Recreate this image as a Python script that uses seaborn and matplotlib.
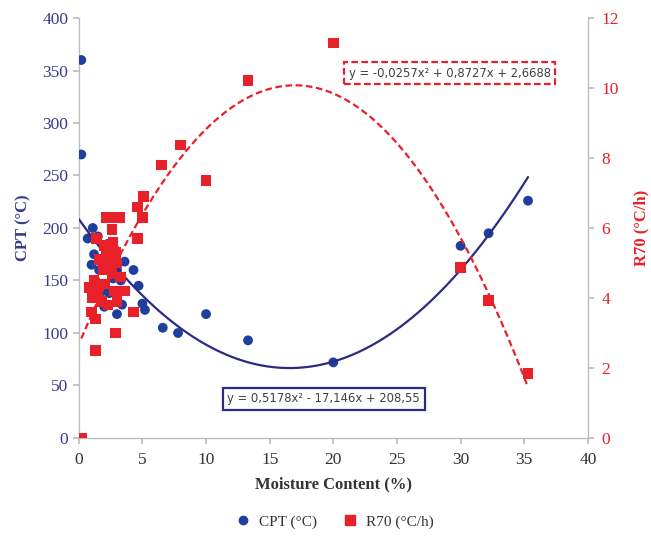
import numpy as np
import pandas as pd
import matplotlib
matplotlib.use("Agg")
import matplotlib.pyplot as plt
import seaborn as sns
from matplotlib.lines import Line2D

# ---- data ----
cpt_x = [0.2, 0.2, 1.1, 0.7, 1.5, 2.3, 2.8, 1.2, 1.0, 1.6, 2.0, 2.5, 3.0, 3.6, 4.3,
         1.3, 2.7, 3.3, 4.7, 1.9, 2.4, 3.0, 3.4, 5.0, 5.2, 3.0, 2.0, 6.6, 7.8,
         10.0, 13.3, 20.0, 30.0, 32.2, 35.3]
cpt_y = [360, 270, 200, 190, 192, 185, 180, 175, 165, 160, 170, 165, 160, 168, 160,
         150, 152, 150, 145, 140, 138, 135, 127, 128, 122, 118, 125, 105, 100,
         118, 93, 72, 183, 195, 226]

r70_x = [0.2, 6.5, 5.1, 4.6, 5.0, 2.2, 2.7, 3.2, 2.6, 4.6, 1.4, 2.0, 2.7, 2.2, 2.9,
         1.6, 2.4, 3.0, 1.9, 2.6, 3.3, 1.2, 2.0, 0.8, 1.5, 2.8, 3.6, 1.1, 1.8, 2.3,
         3.0, 1.0, 4.3, 1.3, 2.9, 1.3, 8.0, 10.0, 13.3, 20.0, 30.0, 32.2, 35.3]
r70_y = [0.0, 7.8, 6.9, 6.6, 6.3, 6.3, 6.3, 6.3, 5.95, 5.7, 5.7, 5.5, 5.6, 5.3, 5.3,
         5.1, 5.0, 5.0, 4.8, 4.7, 4.6, 4.5, 4.4, 4.3, 4.2, 4.2, 4.2, 4.0, 3.9, 3.8,
         3.9, 3.6, 3.6, 3.4, 3.0, 2.5, 8.37, 7.36, 10.22, 11.28, 4.87, 3.93, 1.84]

# trendline coefficients (as printed on the chart)
cpt_coef = [0.5178, -17.146, 208.55]
r70_coef = [-0.0257, 0.8727, 2.6688]
cpt_range = [0.0, 35.3]
r70_range = [0.2, 35.3]
cpt_eq = "y = 0,5178x² - 17,146x + 208,55"
r70_eq = "y = -0,0257x² + 0,8727x + 2,6688"

x_ticks = [0, 5, 10, 15, 20, 25, 30, 35, 40]
left_ticks = [0, 50, 100, 150, 200, 250, 300, 350, 400]
right_ticks = [0, 2, 4, 6, 8, 10, 12]

# ---- style ----
sns.set_theme(style="white")
plt.rcParams['font.family'] = ['Liberation Serif', 'DejaVu Serif']

BLUE_PT = "#1f3f9e"
BLUE_LN = "#2d2a85"
RED = "#e8202a"
LBLUE = "#3a3a8f"
GRAY = "#333333"
SPINE = "#bdbdbd"

fig = plt.figure(figsize=(6.51, 5.39), dpi=100)
ax = fig.add_axes([0.121, 0.1874, 0.782, 0.7792])
ax2 = ax.twinx()

df_cpt = pd.DataFrame({"x": cpt_x, "y": cpt_y})
df_r70 = pd.DataFrame({"x": r70_x, "y": r70_y})

sns.scatterplot(data=df_cpt, x="x", y="y", ax=ax, color=BLUE_PT, marker="o",
                s=50, edgecolor="none", zorder=3, legend=False)
sns.scatterplot(data=df_r70, x="x", y="y", ax=ax2, color=RED, marker="s",
                s=58, edgecolor="none", zorder=3, legend=False)

xc = np.linspace(cpt_range[0], cpt_range[1], 300)
sns.lineplot(x=xc, y=np.polyval(cpt_coef, xc), ax=ax, color=BLUE_LN, lw=1.6,
             zorder=4, estimator=None)
xr = np.linspace(r70_range[0], r70_range[1], 300)
sns.lineplot(x=xr, y=np.polyval(r70_coef, xr), ax=ax2, color=RED, lw=1.6,
             zorder=4, estimator=None, dashes=False, linestyle=(0, (3, 1.6)))

ax.set_xlim(0, 40)
ax.set_ylim(0, 400)
ax2.set_ylim(0, 12)
ax.set_xticks(x_ticks)
ax.set_yticks(left_ticks)
ax2.set_yticks(right_ticks)

for a in (ax, ax2):
    for s in a.spines.values():
        s.set_visible(False)
ax.spines['left'].set_visible(True)
ax.spines['bottom'].set_visible(True)
ax2.spines['right'].set_visible(True)
for s in (ax.spines['left'], ax.spines['bottom'], ax2.spines['right']):
    s.set_color(SPINE)
    s.set_linewidth(1.0)

ax.tick_params(axis='y', colors=SPINE, labelcolor=LBLUE, labelsize=12.5,
               length=4, direction='out', left=True)
ax.tick_params(axis='x', colors=SPINE, labelcolor=GRAY, labelsize=12.5,
               length=4, direction='out', bottom=True, pad=6)
ax2.tick_params(axis='y', colors=SPINE, labelcolor=RED, labelsize=12.5,
                length=4, direction='out', right=True, pad=6)

ax.set_xlabel("Moisture Content (%)", fontsize=12, fontweight='bold', color=GRAY, labelpad=6)
ax.set_ylabel("CPT (°C)", fontsize=12, fontweight='bold', color=LBLUE, labelpad=8)
ax2.set_ylabel("R70 (°C/h)", fontsize=12, fontweight='bold', color=RED, labelpad=10)

eqfont = ['DejaVu Sans']
ax.text(0.729, 0.869, r70_eq, transform=ax.transAxes, ha='center', va='center',
        fontsize=9.3, color="#404040", family=eqfont, stretch='condensed', zorder=6,
        bbox=dict(boxstyle='square,pad=0.35', facecolor='white', edgecolor=RED,
                  linestyle=(0, (3, 1.5)), linewidth=1.6))
ax.text(0.481, 0.093, cpt_eq, transform=ax.transAxes, ha='center', va='center',
        fontsize=9.3, color="#404040", family=eqfont, stretch='condensed', zorder=6,
        bbox=dict(boxstyle='square,pad=0.35', facecolor='white', edgecolor=BLUE_LN,
                  linewidth=1.6))

handles = [Line2D([], [], marker='o', color=BLUE_PT, ls='none', markersize=6),
           Line2D([], [], marker='s', color=RED, ls='none', markersize=6.5)]
fig.legend(handles, ["CPT (°C)", "R70 (°C/h)"], loc='center', ncol=2,
           bbox_to_anchor=(0.508, 0.032), frameon=False, fontsize=11,
           handletextpad=0.0, columnspacing=1.2, labelcolor=GRAY)

fig.savefig("out.png", dpi=100)
